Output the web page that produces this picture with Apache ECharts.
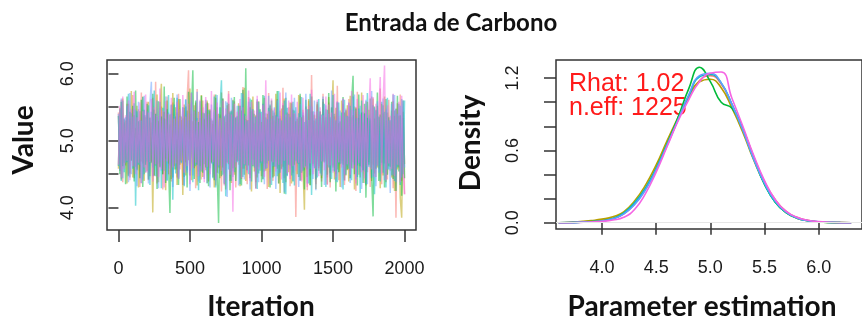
<!DOCTYPE html>
<html>
<head>
<meta charset="utf-8">
<title>Entrada de Carbono</title>
<script src="https://cdn.jsdelivr.net/npm/echarts@6.0.0/dist/echarts.min.js"></script>
<style>
  html, body { margin: 0; padding: 0; background: #fff; }
  #chart { width: 862px; height: 325px; }
</style>
</head>
<body>
<div id="chart"></div>
<script>
  const traceRed = [
    5.42,4.55,5.61,4.38,5.27,4.63,5.55,4.49,5.33,4.71,5.68,4.44,5.19,4.58,5.47,4.31,5.72,4.66,5.38,4.52,
    5.58,4.41,5.35,4.69,5.64,4.47,5.88,4.36,5.29,4.6,5.51,4.27,5.43,4.73,5.66,4.5,5.24,4.39,5.57,4.62,
    5.36,4.45,5.7,4.57,5.31,4.34,5.49,4.68,5.62,6.05,4.48,5.4,4.6,5.53,4.29,5.77,4.54,5.34,4.42,5.6,
    4.65,5.45,4.37,5.56,4.7,5.3,4.46,5.69,4.33,5.5,4.59,5.39,4.24,5.63,4.51,5.28,4.67,5.74,4.4,5.46,
    4.55,5.59,4.3,5.37,4.64,5.52,4.43,5.8,4.58,5.32,4.35,5.65,4.49,5.44,4.72,5.26,4.38,5.6,4.61,5.41,
    4.47,5.55,4.66,5.34,4.28,5.71,4.53,5.48,4.4,5.3,4.69,5.62,4.36,5.45,4.57,5.79,4.44,5.35,4.63,5.5,
    4.32,5.58,4.52,5.4,3.86,5.33,4.65,5.67,4.41,5.46,4.56,5.29,4.26,5.6,4.48,5.98,4.62,5.38,4.35,5.53,
    4.59,5.43,4.39,5.7,4.67,5.31,4.45,5.57,4.3,5.49,4.63,5.36,4.5,5.82,4.41,5.28,4.7,5.55,4.34,5.44,
    4.56,5.62,4.44,5.35,4.68,5.51,4.25,5.73,4.49,5.39,4.6,5.27,4.37,5.59,4.53,5.46,4.31,5.66,4.64,5.33,
    4.46,5.52,4.58,5.78,4.35,5.41,4.66,5.3,4.42,5.61,4.55,5.45,4.29,5.37,3.85,5.56,4.6,5.69,4.4,5.34,
    4.2
  ];
  const traceOlive = [
    4.58,5.49,4.42,5.63,4.67,5.3,4.36,5.55,4.51,5.74,4.45,5.38,4.61,5.52,4.3,5.44,4.69,5.66,4.4,5.35,
    4.55,5.58,4.47,5.27,3.93,5.46,4.63,5.69,4.38,5.41,5.85,4.5,5.33,4.26,5.6,4.66,5.39,4.43,5.71,4.57,
    5.5,4.34,5.62,4.64,5.36,4.19,5.54,4.48,5.45,4.71,5.78,4.41,5.29,4.59,5.57,4.33,5.43,4.62,5.68,4.46,
    5.32,4.56,5.6,4.39,5.47,4.68,5.25,4.3,5.64,4.52,5.4,4.44,5.72,4.6,5.35,4.27,5.53,4.65,5.42,4.37,
    5.61,4.49,5.34,4.7,5.56,4.32,5.45,4.58,5.79,4.4,5.31,4.63,5.5,4.24,5.66,4.54,5.38,4.45,5.59,4.67,
    5.28,4.43,5.64,4.55,5.4,4.31,5.52,4.69,5.37,4.47,5.7,4.58,5.33,4.22,5.48,4.61,5.63,4.38,5.42,4.53,
    5.57,4.36,5.46,4.64,5.29,4.5,5.68,4.41,5.35,4.6,3.97,5.51,4.46,5.62,4.33,5.44,4.66,5.39,4.28,5.55,
    4.62,5.36,4.44,5.58,4.7,5.47,4.35,5.65,4.52,5.31,5.9,4.42,5.49,4.57,5.26,4.31,5.6,4.64,5.42,4.48,
    5.53,4.39,5.67,4.59,5.38,4.27,5.5,4.63,5.34,4.45,5.72,4.56,5.41,4.33,5.58,4.68,5.3,4.4,5.63,4.51,
    5.46,4.6,5.35,4.29,5.55,4.48,5.66,4.38,5.42,4.62,5.29,4.45,5.59,4.25,5.48,4.57,5.37,4.14,3.85,5.43,
    4.65
  ];
  const traceGreen = [
    5.37,4.5,5.58,4.62,5.32,4.35,5.66,4.47,5.43,4.7,5.52,4.39,5.75,4.56,5.29,4.44,5.61,4.31,5.46,4.64,
    5.55,4.42,5.34,4.67,5.7,4.48,5.4,4.28,5.59,4.61,5.36,4.5,5.81,4.37,5.47,4.63,3.92,5.54,4.45,5.64,
    4.57,5.42,4.34,5.62,4.69,5.33,4.46,5.51,4.3,5.73,4.55,5.38,6.05,4.43,5.6,4.64,5.28,4.37,5.67,4.52,
    5.41,4.6,5.57,4.32,5.45,4.66,5.3,4.41,5.69,4.53,3.77,5.5,4.47,5.63,4.35,5.39,4.68,5.55,4.26,5.44,
    4.59,5.65,4.4,5.36,4.7,5.52,4.33,5.76,4.49,6.08,4.56,5.31,4.44,5.61,4.62,5.4,4.29,5.58,4.51,5.47,
    4.38,5.68,4.54,5.35,4.66,5.49,4.3,5.6,4.45,5.42,4.61,5.74,4.36,5.33,4.58,5.53,4.21,5.64,4.48,5.4,
    4.63,5.56,4.39,5.45,4.7,5.32,4.46,5.7,4.52,5.38,4.27,5.61,4.57,5.47,4.34,5.66,4.65,5.3,4.42,5.58,
    4.55,5.44,4.31,5.62,4.68,5.35,4.49,5.71,4.38,5.5,4.6,5.4,4.24,5.57,4.53,5.29,4.66,5.65,4.41,5.46,
    4.57,5.36,4.44,5.6,5.97,4.5,5.48,4.33,5.69,4.62,5.42,4.37,5.55,4.15,5.34,4.64,5.63,4.46,3.87,5.51,
    4.58,5.72,4.4,5.39,4.67,5.53,4.3,5.62,4.49,5.35,4.61,5.58,4.43,5.45,4.25,5.67,4.54,5.38,4.18,5.6,
    4.44
  ];
  const traceCyan = [
    4.62,5.47,4.4,5.6,4.53,5.35,4.68,5.7,4.45,5.41,4.58,5.56,4.03,5.44,4.64,5.31,4.37,5.65,4.5,5.38,
    4.69,5.53,4.34,5.43,4.6,5.75,4.47,5.36,4.66,5.58,4.29,5.49,4.55,5.32,4.41,5.68,4.63,5.4,4.12,5.54,
    4.51,5.64,4.43,5.37,4.67,5.5,4.32,5.61,4.56,5.3,4.48,5.72,4.38,5.45,4.62,5.34,4.26,5.59,4.54,5.42,
    4.65,5.55,4.36,5.46,4.59,5.33,4.44,5.66,4.3,5.39,4.61,5.51,5.9,4.49,5.37,4.17,5.57,4.57,5.44,4.4,
    5.6,4.53,5.35,4.68,5.52,4.35,5.71,4.46,5.4,4.63,5.29,4.5,5.63,4.39,5.47,4.6,5.36,4.28,5.58,4.55,
    5.43,4.42,5.67,4.58,5.32,4.7,5.54,4.34,5.45,4.61,5.38,4.47,5.74,4.52,5.3,4.37,5.6,4.2,5.49,4.64,
    5.35,4.48,5.58,4.33,5.5,4.66,5.41,4.4,5.65,4.55,5.28,4.62,5.47,4.36,5.7,4.19,5.44,4.59,5.33,4.45,
    5.62,4.51,5.39,4.69,5.55,4.31,5.46,4.6,5.35,4.43,5.68,4.54,5.3,4.38,5.57,4.65,5.42,4.27,5.61,4.49,
    5.37,4.58,5.52,4.41,5.66,4.64,5.34,4.46,5.48,4.22,5.6,4.56,5.4,4.35,5.71,4.61,5.33,4.44,5.53,4.2,
    5.45,4.63,5.36,4.39,5.58,4.52,5.43,4.3,5.64,4.57,5.31,4.48,5.69,4.4,5.47,4.6,5.55,4.34,5.62,4.5,
    5.6
  ];
  const traceBlue = [
    5.4,4.56,5.63,4.44,5.34,4.67,5.52,4.38,5.71,4.5,5.36,4.61,5.46,4.32,5.58,4.64,5.3,4.42,5.67,4.53,
    5.44,4.36,5.55,5.88,4.47,5.39,4.63,5.6,4.29,5.48,4.55,5.33,4.69,5.66,4.4,5.42,4.58,5.53,4.31,5.37,
    4.6,5.69,4.45,5.35,4.66,5.5,4.34,5.62,4.52,5.41,4.25,5.57,4.48,5.3,4.64,5.73,4.39,5.45,4.57,5.34,
    4.43,5.61,4.55,5.38,4.3,5.54,4.65,5.43,4.41,5.68,4.51,5.32,4.62,5.49,4.37,5.59,4.16,5.4,4.54,5.64,
    4.46,5.36,4.68,5.52,4.33,5.45,4.6,5.7,4.42,5.31,4.56,5.58,4.27,5.47,4.64,5.35,4.49,5.62,4.38,5.43,
    4.66,5.55,4.35,5.41,4.59,5.67,4.44,5.33,4.62,5.5,4.28,5.6,4.51,5.37,4.65,5.46,4.23,5.72,4.47,5.39,
    4.57,5.48,4.4,5.64,4.69,5.35,4.31,5.55,4.53,5.42,4.6,5.7,4.36,5.31,4.58,5.51,4.43,5.6,4.26,5.44,
    4.61,5.37,4.48,5.66,4.34,5.53,4.64,5.4,4.45,5.75,4.55,5.32,4.39,5.58,4.67,5.45,4.3,5.62,4.5,5.36,
    4.63,5.57,4.37,5.46,4.59,5.69,4.42,5.34,4.66,5.52,4.28,5.43,4.54,5.61,4.35,5.38,4.6,5.74,4.46,5.49,
    4.32,5.59,4.52,5.35,4.64,5.63,4.41,5.47,4.57,5.3,4.22,5.55,4.49,5.68,4.38,5.4,4.63,5.52,4.45,5.6,
    4.6
  ];
  const traceMagenta = [
    4.64,5.52,4.45,5.66,4.58,5.38,4.7,5.6,4.41,5.47,4.62,5.73,4.5,5.35,4.67,5.57,4.36,5.44,4.6,5.69,
    4.53,5.42,4.68,5.62,4.39,5.5,4.65,5.37,4.46,5.78,4.57,5.45,4.3,5.59,4.69,5.4,4.48,5.64,4.6,5.33,
    4.66,5.58,4.43,5.47,4.7,5.68,4.52,5.36,4.62,5.55,4.35,5.71,4.59,5.44,4.67,5.3,4.47,5.61,4.55,5.5,
    4.38,5.65,4.61,5.4,4.5,5.74,4.68,5.46,4.42,5.57,4.63,5.34,4.55,5.6,4.33,5.48,4.66,5.7,4.49,5.39,
    3.94,5.55,4.6,5.43,4.7,5.62,4.44,5.5,4.65,5.37,4.52,5.75,4.4,5.58,4.63,5.45,4.28,5.67,4.57,5.41,
    4.69,5.53,4.46,5.9,4.6,5.44,4.35,5.63,4.68,5.48,4.54,5.36,4.64,5.72,4.42,5.56,4.7,5.39,4.51,5.6,
    4.43,5.69,4.62,5.41,4.55,5.58,4.67,5.35,4.39,5.64,4.6,5.47,4.31,5.52,4.66,5.76,4.5,5.43,4.58,5.61,
    4.47,5.5,4.69,5.38,4.56,5.66,4.34,5.54,4.63,5.42,4.52,5.7,4.45,5.59,4.68,5.37,4.6,5.63,4.4,5.48,
    4.65,5.56,4.49,5.74,4.58,5.45,4.36,5.62,4.67,5.4,4.53,5.68,4.44,5.51,4.62,5.39,5.93,4.57,5.65,4.46,
    5.55,4.63,5.42,5.95,4.5,5.6,6.12,4.41,5.53,4.66,5.37,4.58,5.7,4.47,5.46,4.64,5.58,4.38,5.67,4.55,
    4.2
  ];

  // densidades por cadena
  const densX = [3.6,3.7,3.8,3.9,4.0,4.1,4.2,4.3,4.4,4.5,4.6,4.7,4.8,4.9,5.0,5.1,5.2,5.3,5.4,5.5,5.6,5.7,5.8,5.9,6.0,6.1,6.2,6.3];
  const densRed     = [0,.002,.006,.011,.02,.036,.074,.155,.285,.455,.655,.855,1.04,1.18,1.22,1.15,.98,.78,.55,.34,.19,.095,.045,.02,.008,.003,.001,0];
  const densOlive   = [0,.003,.009,.018,.03,.05,.09,.18,.31,.48,.68,.87,1.05,1.17,1.19,1.12,.95,.75,.52,.32,.17,.085,.038,.016,.006,.002,.001,0];
  const densGreen   = [0,.002,.005,.01,.017,.035,.078,.16,.28,.45,.65,.87,1.11,1.29,1.17,1.0,.95,.78,.54,.32,.17,.085,.038,.016,.006,.002,.001,0];
  const densCyan    = [0,.001,.004,.008,.015,.033,.08,.165,.285,.45,.65,.85,1.05,1.21,1.23,1.16,.98,.77,.53,.32,.17,.085,.04,.017,.007,.003,.001,0];
  const densBlue    = [0,.001,.004,.008,.015,.032,.072,.15,.27,.44,.64,.85,1.06,1.22,1.24,1.16,.98,.77,.53,.33,.18,.09,.04,.017,.007,.003,.001,0];
  const densMagenta = [0,.001,.003,.006,.011,.022,.045,.11,.24,.42,.63,.84,1.02,1.17,1.24,1.25,1.03,.8,.56,.35,.19,.095,.045,.02,.009,.004,.001,0];

  const iterTicks = [0, 500, 1000, 1500, 2000];
  const valueTicks = [4.0, 4.5, 5.0, 5.5, 6.0];
  const valueLabels = [4.0, 5.0, 6.0];
  const paramTicks = [4.0, 4.5, 5.0, 5.5, 6.0];
  const densTicks = [0, 0.2, 0.4, 0.6, 0.8, 1.0, 1.2];
  const densLabels = [0, 0.6, 1.2];

  const chainColors = ['#F8766D', '#B79F00', '#00BA38', '#00BFC4', '#619CFF', '#F564E3'];
  const traces = [traceRed, traceOlive, traceGreen, traceCyan, traceBlue, traceMagenta];
  const dens = [densRed, densOlive, densGreen, densCyan, densBlue, densMagenta];

  const tickFont = { fontFamily: 'Liberation Sans', fontSize: 18, color: '#1a1a1a' };
  const titleFont = "bold 28px Lato";

  const myChart = echarts.init(document.getElementById('chart'), null, { renderer: 'canvas' });

  const series = [];
  traces.forEach((arr, k) => {
    series.push({
      type: 'line',
      xAxisIndex: 0,
      yAxisIndex: 0,
      showSymbol: false,
      silent: true,
      data: arr.map((v, i) => [i * 10, v]),
      lineStyle: { color: chainColors[k], width: 1.5, opacity: 0.5 }
    });
  });
  dens.forEach((arr, k) => {
    series.push({
      type: 'line',
      xAxisIndex: 1,
      yAxisIndex: 1,
      showSymbol: false,
      silent: true,
      smooth: true,
      data: arr.map((v, i) => [densX[i], v]),
      lineStyle: { color: chainColors[k], width: 1.6 },
      markLine: k === 0 ? {
        silent: true,
        symbol: 'none',
        label: { show: false },
        lineStyle: { color: '#e6e6e6', type: 'solid', width: 1 },
        data: [{ yAxis: 0 }]
      } : undefined
    });
  });

  myChart.setOption({
    animation: false,
    backgroundColor: '#fff',
    grid: [
      { left: 107, top: 60, width: 309, height: 170, show: true, borderColor: '#333', borderWidth: 1.5 },
      { left: 556, top: 60, width: 314, height: 169, show: true, borderColor: '#333', borderWidth: 1.5 }
    ],
    xAxis: [
      {
        gridIndex: 0, type: 'value', min: -80, max: 2080,
        axisLine: { show: false },
        axisTick: { show: true, length: 12, customValues: iterTicks, lineStyle: { color: '#333', width: 1.5 } },
        axisLabel: Object.assign({ customValues: iterTicks, margin: 30, formatter: v => String(v) }, tickFont),
        splitLine: { show: false }
      },
      {
        gridIndex: 1, type: 'value', min: 3.575, max: 6.4,
        axisLine: { show: false },
        axisTick: { show: true, length: 12, customValues: paramTicks, lineStyle: { color: '#333', width: 1.5 } },
        axisLabel: Object.assign({ customValues: paramTicks, margin: 30, formatter: v => v.toFixed(1) }, tickFont),
        splitLine: { show: false }
      }
    ],
    yAxis: [
      {
        gridIndex: 0, type: 'value', min: 3.667, max: 6.204,
        axisLine: { show: false },
        axisTick: { show: true, length: 10, customValues: valueTicks, lineStyle: { color: '#333', width: 1.5 } },
        axisLabel: Object.assign({ customValues: valueLabels, margin: 30, rotate: 90, formatter: v => v.toFixed(1) }, tickFont),
        splitLine: { show: false }
      },
      {
        gridIndex: 1, type: 'value', min: -0.052, max: 1.35,
        axisLine: { show: false },
        axisTick: { show: true, length: 12, customValues: densTicks, lineStyle: { color: '#333', width: 1.5 } },
        axisLabel: Object.assign({ customValues: densLabels, margin: 34, rotate: 90, formatter: v => v.toFixed(1) }, tickFont),
        splitLine: { show: false }
      }
    ],
    graphic: [
      { type: 'text', x: 451, y: 23, style: { text: 'Entrada de Carbono', font: 'bold 24px Lato', fill: '#111', textAlign: 'center', textVerticalAlign: 'middle' } },
      { type: 'text', x: 261, y: 307, style: { text: 'Iteration', font: titleFont, fill: '#111', textAlign: 'center', textVerticalAlign: 'middle' } },
      { type: 'text', x: 702, y: 307, style: { text: 'Parameter estimation', font: titleFont, fill: '#111', textAlign: 'center', textVerticalAlign: 'middle' } },
      { type: 'text', x: 24, y: 140, rotation: Math.PI / 2, style: { text: 'Value', font: titleFont, fill: '#111', textAlign: 'center', textVerticalAlign: 'middle' } },
      { type: 'text', x: 471, y: 143, rotation: Math.PI / 2, style: { text: 'Density', font: titleFont, fill: '#111', textAlign: 'center', textVerticalAlign: 'middle' } },
      { type: 'text', x: 569, y: 84, style: { text: 'Rhat: 1.02', font: '25px "Liberation Sans"', fill: '#ff1a1a', textAlign: 'left', textVerticalAlign: 'middle' } },
      { type: 'text', x: 569, y: 108, style: { text: 'n.eff: 1225', font: '25px "Liberation Sans"', fill: '#ff1a1a', textAlign: 'left', textVerticalAlign: 'middle' } }
    ],
    series: series
  });
</script>
</body>
</html>
